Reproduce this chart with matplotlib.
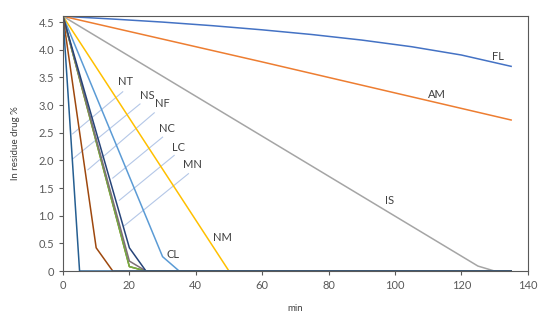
import matplotlib.pyplot as plt
from matplotlib.ticker import FuncFormatter

plt.rcParams['font.family'] = ['Lato', 'DejaVu Sans']

# ln(residue drug %) vs time (min); series in Excel drawing order
names = ['FL', 'AM', 'IS', 'NM', 'CL', 'NC', 'LC', 'NS', 'MN', 'NF', 'NT']
times = [
    [0, 15, 30, 45, 60, 75, 90, 105, 120, 135],   # FL
    [0, 60, 135],                                  # AM
    [0, 125, 130, 135],                            # IS
    [0, 50, 135],                                  # NM
    [0, 30, 35, 135],                              # CL
    [0, 20, 25, 135],                              # NC (green)
    [0, 20, 25, 135],                              # LC (navy)
    [0, 10, 15, 135],                              # NS (brown)
    [0, 20, 25, 135],                              # MN (dark gray)
    [0, 20, 25, 135],                              # NF (dark gold)
    [0, 5, 135],                                   # NT
]
values = [
    [4.605, 4.555, 4.50, 4.435, 4.36, 4.275, 4.175, 4.055, 3.905, 3.70],
    [4.605, 3.78, 2.73],
    [4.605, 0.09, 0.0, 0.0],
    [4.605, 0.0, 0.0],
    [4.605, 0.26, 0.0, 0.0],
    [4.605, 0.08, 0.0, 0.0],
    [4.605, 0.42, 0.0, 0.0],
    [4.605, 0.42, 0.0, 0.0],
    [4.605, 0.18, 0.0, 0.0],
    [4.605, 0.08, 0.0, 0.0],
    [4.605, 0.0, 0.0],
]
colors = ['#4472C4', '#ED7D31', '#A5A5A5', '#FFC000', '#5B9BD5', '#70AD47',
          '#264478', '#9E480E', '#7F6F77', '#997300', '#255E91']
zorders = [2, 2, 2, 2, 2, 2.2, 2.3, 2.3, 2.25, 2.1, 2.4]

# label text and where it sits (data coords)
label_text = ['FL', 'AM', 'IS', 'NM', 'CL']
label_x = [131, 112.5, 98.5, 48, 33]
label_y = [3.87, 3.2, 1.28, 0.6, 0.29]

# labels with leader lines: text pos, leader start, leader end
lead_text = ['NT', 'NS', 'NF', 'NC', 'LC', 'MN']
lead_tx = [18.8, 25.3, 29.8, 31.4, 34.8, 39.0]
lead_ty = [3.42, 3.18, 3.03, 2.57, 2.24, 1.92]
lead_x0 = [18.0, 23.2, 27.5, 30.0, 33.5, 37.8]
lead_y0 = [3.24, 3.02, 2.86, 2.42, 2.09, 1.76]
lead_x1 = [2.9, 3.0, 7.5, 15.0, 17.0, 18.5]
lead_y1 = [2.48, 2.03, 1.83, 1.68, 1.28, 0.82]

fig = plt.figure(figsize=(5.5, 3.2), dpi=100)
ax = fig.add_axes([0.1145, 0.153, 0.845, 0.797])

for x0, y0, x1, y1 in zip(lead_x0, lead_y0, lead_x1, lead_y1):
    ax.plot([x0, x1], [y0, y1], color='#B4C7E7', lw=0.8, zorder=1)

for t, v, c, z in zip(times, values, colors, zorders):
    ax.plot(t, v, color=c, lw=1.1, solid_joinstyle='round', zorder=z)

txtcol = '#404040'
for s, x, y in zip(label_text, label_x, label_y):
    ax.text(x, y, s, fontsize=8, color=txtcol, ha='center', va='center')
for s, x, y in zip(lead_text, lead_tx, lead_ty):
    ax.text(x, y, s, fontsize=8, color=txtcol, ha='center', va='center')

ax.set_xlim(0, 140)
ax.set_ylim(0, 4.61)
ax.set_xticks(range(0, 141, 20))
ax.set_yticks([0, 0.5, 1.0, 1.5, 2.0, 2.5, 3.0, 3.5, 4.0, 4.5])
ax.yaxis.set_major_formatter(FuncFormatter(lambda v, p: '0' if v == 0 else f'{v:.1f}'))
ax.tick_params(direction='out', length=3, width=0.8, color='#595959',
               labelsize=8, labelcolor='#595959')
for sp in ax.spines.values():
    sp.set_color('#595959')
    sp.set_linewidth(0.8)

ax.set_xlabel('min', fontsize=7, color='#404040', labelpad=9)
ax.set_ylabel('ln residue drug %', fontsize=7, color='#404040', labelpad=13)

fig.savefig('out.png', dpi=100)
